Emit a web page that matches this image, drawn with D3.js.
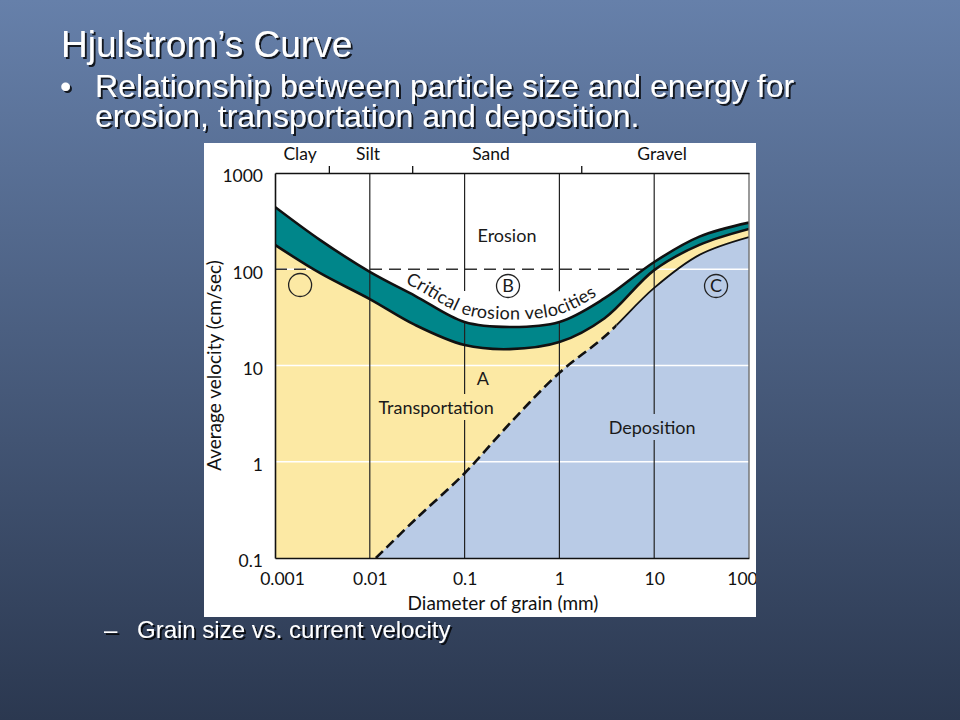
<!DOCTYPE html>
<html>
<head>
<meta charset="utf-8">
<script src="https://cdn.jsdelivr.net/npm/d3@7"></script>
<style>
  body { margin: 0; background: #2e3b54; }
  svg { display: block; }
</style>
</head>
<body>
<div id="chart"></div>
<script>
// grain diameter (mm) sampled along the erosion band
const grainMm = [0.001, 0.003, 0.01, 0.03, 0.1, 0.3, 1, 3, 10, 30, 100];
// upper and lower edge of the critical erosion velocity band (cm/sec)
const erosionUpper = [444, 201, 94, 53, 28.3, 25.1, 28.3, 50, 119, 218, 305];
const erosionLower = [179, 91, 49, 26.4, 16.3, 14.8, 17.5, 31, 98, 179, 262];
// settling (deposition) curve
const settlingMm = [0.0116, 0.03, 0.1, 0.3, 1, 3, 10, 30, 100];
const settlingVel = [0.1, 0.25, 0.76, 2.5, 8.4, 20, 64, 141, 216];

const xTicks = [0.001, 0.01, 0.1, 1, 10, 100];
const xTickLabels = ["0.001", "0.01", "0.1", "1", "10", "100"];
const yTicks = [0.1, 1, 10, 100, 1000];
const yTickLabels = ["0.1", "1", "10", "100", "1000"];

const sizeClasses = ["Clay", "Silt", "Sand", "Gravel"];
const classCentres = [0.00184, 0.0096, 0.19, 12.1];
const classBounds = [0.0037, 0.028, 1.7];

const regionNames = ["Erosion", "Transportation", "A", "Deposition"];
const regionMm = [0.28, 0.05, 0.156, 9.5];
const regionVel = [192, 3.13, 6.27, 1.94];

const markerNames = ["", "B", "C"];
const markerMm = [0.00184, 0.287, 44.9];
const markerVel = [68.6, 67, 67];

const W = 960, H = 720;
const yellow = "#fce9a4", blue = "#b9cbe6", teal = "#00868a";
const chartFont = "Lato, 'Open Sans', sans-serif";
const slideFont = "'Liberation Sans', Arial, sans-serif";

const svg = d3.select("#chart").append("svg")
  .attr("width", W)
  .attr("height", H);

const defs = svg.append("defs");
const grad = defs.append("linearGradient")
  .attr("id", "bg")
  .attr("x1", 0).attr("y1", 0).attr("x2", 0).attr("y2", 1);
grad.append("stop").attr("offset", "0%").attr("stop-color", "#6680aa");
grad.append("stop").attr("offset", "100%").attr("stop-color", "#2b3850");

const shadow = defs.append("filter").attr("id", "shadow")
  .attr("x", "-5%").attr("y", "-20%").attr("width", "110%").attr("height", "140%");
shadow.append("feDropShadow")
  .attr("dx", 2).attr("dy", 2)
  .attr("stdDeviation", 0.5)
  .attr("flood-color", "#000")
  .attr("flood-opacity", 0.8);

svg.append("rect").attr("width", W).attr("height", H).attr("fill", "url(#bg)");

// slide text
const slide = svg.append("g")
  .attr("fill", "#fff")
  .attr("font-family", slideFont)
  .attr("filter", "url(#shadow)");

slide.append("text").attr("x", 61).attr("y", 57)
  .attr("font-size", 37).text("Hjulstrom\u2019s Curve");
slide.append("text").attr("x", 60).attr("y", 97)
  .attr("font-size", 32).text("\u2022");
slide.append("text").attr("x", 95).attr("y", 97)
  .attr("font-size", 32).text("Relationship between particle size and energy for");
slide.append("text").attr("x", 95).attr("y", 127)
  .attr("font-size", 32).text("erosion, transportation and deposition.");
slide.append("text").attr("x", 104).attr("y", 638)
  .attr("font-size", 24).text("\u2013");
slide.append("text").attr("x", 137).attr("y", 638)
  .attr("font-size", 24).text("Grain size vs. current velocity");

// white figure panel
const panel = { x: 204, y: 143, w: 552, h: 474 };
defs.append("clipPath").attr("id", "panelClip").append("rect")
  .attr("x", panel.x).attr("y", panel.y).attr("width", panel.w).attr("height", panel.h);

const fig = svg.append("g").attr("clip-path", "url(#panelClip)");
fig.append("rect")
  .attr("x", panel.x).attr("y", panel.y)
  .attr("width", panel.w).attr("height", panel.h)
  .attr("fill", "#fff");

const plot = { left: 275, right: 749, top: 173, bottom: 558 };
const x = d3.scaleLog().domain([0.001, 100]).range([plot.left, plot.right]);
const y = d3.scaleLog().domain([0.1, 1000]).range([plot.bottom, plot.top]);

defs.append("clipPath").attr("id", "plotClip").append("rect")
  .attr("x", plot.left).attr("y", plot.top)
  .attr("width", plot.right - plot.left).attr("height", plot.bottom - plot.top);

const upper = grainMm.map((d, i) => ({ mm: d, v: erosionUpper[i] }));
const lower = grainMm.map((d, i) => ({ mm: d, v: erosionLower[i] }));
const settle = settlingMm.map((d, i) => ({ mm: d, v: settlingVel[i] }));

const curve = d3.curveCatmullRom.alpha(0.5);
const line = d3.line().x(d => x(d.mm)).y(d => y(d.v)).curve(curve);
const areaBelow = d3.area()
  .x(d => x(d.mm))
  .y0(y(0.1))
  .y1(d => y(d.v))
  .curve(curve);
const band = d3.area()
  .x(d => x(d.mm))
  .y0((d, i) => y(lower[i].v))
  .y1(d => y(d.v))
  .curve(curve);

const p = fig.append("g").attr("clip-path", "url(#plotClip)");

p.append("path").attr("d", areaBelow(lower)).attr("fill", yellow);
p.append("path").attr("d", areaBelow(settle)).attr("fill", blue);

// faint white gridlines
p.selectAll(".hgrid")
  .data([1, 10, 100])
  .enter()
  .append("line")
  .attr("class", "hgrid")
  .attr("x1", plot.left).attr("x2", plot.right)
  .attr("y1", d => y(d)).attr("y2", d => y(d))
  .attr("stroke", "#fff")
  .attr("stroke-width", 1.6);

p.append("line")
  .attr("x1", x(0.001)).attr("x2", x(10))
  .attr("y1", y(100)).attr("y2", y(100))
  .attr("stroke", "#333")
  .attr("stroke-width", 1.3)
  .attr("stroke-dasharray", "12,7");

p.append("path").attr("d", band(upper)).attr("fill", teal);

const vgrid = p.append("g");

p.append("path").attr("d", line(upper))
  .attr("fill", "none").attr("stroke", "#111").attr("stroke-width", 2.6);
p.append("path").attr("d", line(lower))
  .attr("fill", "none").attr("stroke", "#111").attr("stroke-width", 2.6);

// settling curve: dashed through transport zone, solid further on
const splitMm = 4;
defs.append("clipPath").attr("id", "dashClip").append("rect")
  .attr("x", plot.left).attr("y", plot.top)
  .attr("width", x(splitMm) - plot.left).attr("height", plot.bottom - plot.top);
defs.append("clipPath").attr("id", "solidClip").append("rect")
  .attr("x", x(splitMm)).attr("y", plot.top)
  .attr("width", plot.right - x(splitMm)).attr("height", plot.bottom - plot.top);

p.append("path").attr("d", line(settle))
  .attr("clip-path", "url(#dashClip)")
  .attr("fill", "none").attr("stroke", "#111")
  .attr("stroke-width", 2.6).attr("stroke-dasharray", "10,5");
p.append("path").attr("d", line(settle))
  .attr("clip-path", "url(#solidClip)")
  .attr("fill", "none").attr("stroke", "#111")
  .attr("stroke-width", 1.8);

// labels inside the plot
const labels = fig.append("g")
  .attr("font-family", chartFont)
  .attr("font-size", 18)
  .attr("fill", "#1a1a1a");

const labelNodes = [];
regionNames.forEach((name, i) => {
  const t = labels.append("text")
    .attr("x", x(regionMm[i]))
    .attr("y", y(regionVel[i]))
    .attr("text-anchor", "middle")
    .text(name);
  labelNodes.push(t.node());
});

// curved label riding just above the erosion band
const guide = p.append("path")
  .attr("id", "critPath")
  .attr("d", line(upper.map(d => ({ mm: d.mm, v: d.v * 1.2 }))))
  .attr("fill", "none")
  .attr("stroke", "none");
const guideNode = guide.node();
const total = guideNode.getTotalLength();
function lengthAtX(px) {
  let lo = 0, hi = total;
  for (let k = 0; k < 40; k++) {
    const mid = (lo + hi) / 2;
    if (guideNode.getPointAtLength(mid).x < px) lo = mid; else hi = mid;
  }
  return lo;
}
const l0 = lengthAtX(x(0.0235));
const l1 = lengthAtX(x(2.5));
const crit = labels.append("text");
crit.append("textPath")
  .attr("href", "#critPath")
  .attr("startOffset", l0)
  .attr("textLength", l1 - l0)
  .attr("lengthAdjust", "spacing")
  .text("Critical erosion velocities");
labelNodes.push(crit.node());

// circled markers
markerNames.forEach((name, i) => {
  labels.append("circle")
    .attr("cx", x(markerMm[i]))
    .attr("cy", y(markerVel[i]))
    .attr("r", 11.5)
    .attr("fill", "none")
    .attr("stroke", "#222")
    .attr("stroke-width", 1.3);
  if (name) {
    labels.append("text")
      .attr("x", x(markerMm[i]))
      .attr("y", y(markerVel[i]))
      .attr("dy", "0.36em")
      .attr("text-anchor", "middle")
      .attr("font-size", 18)
      .text(name);
  }
});

// vertical decade lines, broken where labels sit
function gapsAt(px) {
  const spans = [];
  labelNodes.forEach(node => {
    const n = node.getNumberOfChars();
    for (let i = 0; i < n; i++) {
      const r = node.getExtentOfChar(i);
      if (r.x - 4 < px && r.x + r.width + 4 > px) {
        spans.push([r.y - 2, r.y + r.height + 2]);
      }
    }
  });
  spans.sort((a, b) => a[0] - b[0]);
  const merged = [];
  spans.forEach(s => {
    const last = merged[merged.length - 1];
    if (last && s[0] <= last[1] + 3) last[1] = Math.max(last[1], s[1]);
    else merged.push(s.slice());
  });
  return merged;
}

xTicks.slice(1, -1).forEach(t => {
  const px = x(t);
  let start = plot.top;
  const segs = [];
  gapsAt(px).forEach(g => {
    segs.push([start, g[0]]);
    start = g[1];
  });
  segs.push([start, plot.bottom]);
  vgrid.selectAll(null)
    .data(segs.filter(s => s[1] > s[0]))
    .enter()
    .append("line")
    .attr("x1", px).attr("x2", px)
    .attr("y1", s => s[0]).attr("y2", s => s[1])
    .attr("stroke", "#222")
    .attr("stroke-width", 1.2);
});

// right frame
fig.append("line")
  .attr("x1", x(100)).attr("x2", x(100))
  .attr("y1", y(1000)).attr("y2", y(0.1))
  .attr("stroke", "#6f6f6f")
  .attr("stroke-width", 1.4);

// axes
const axisStyle = sel => {
  sel.attr("font-family", chartFont).attr("font-size", 17.5);
  sel.select(".domain").attr("stroke", "#111").attr("stroke-width", 1.6);
  sel.selectAll(".tick line").attr("stroke", "#111").attr("stroke-width", 1.3);
  sel.selectAll(".tick text").attr("fill", "#111");
};

fig.append("g")
  .attr("transform", `translate(0,${plot.bottom})`)
  .call(d3.axisBottom(x)
    .tickValues(xTicks)
    .tickSize(0)
    .tickSizeOuter(0)
    .tickPadding(15)
    .tickFormat((d, i) => xTickLabels[i]))
  .call(axisStyle)
  .call(g => g.selectAll(".tick text")
    .attr("dx", (d, i) => (i === 0 ? 7 : i === xTicks.length - 1 ? -7 : 0)));

fig.append("g")
  .attr("transform", `translate(${plot.left},0)`)
  .call(d3.axisLeft(y)
    .tickValues(yTicks)
    .tickSize(0)
    .tickSizeOuter(0)
    .tickPadding(12)
    .tickFormat((d, i) => yTickLabels[i]))
  .call(axisStyle)
  .call(g => g.selectAll(".tick text").attr("dy", "0.5em"));

// top axis with grain size classes
const classAxis = fig.append("g")
  .attr("transform", `translate(0,${plot.top})`)
  .call(d3.axisTop(x)
    .tickValues(classBounds)
    .tickSize(7)
    .tickSizeOuter(0)
    .tickFormat(""))
  .call(axisStyle);

classAxis.selectAll(".cls")
  .data(sizeClasses)
  .enter()
  .append("text")
  .attr("class", "cls")
  .attr("x", (d, i) => x(classCentres[i]))
  .attr("y", -13)
  .attr("text-anchor", "middle")
  .attr("fill", "#111")
  .text(d => d);

// axis titles
fig.append("text")
  .attr("transform", `translate(221,${(plot.top + plot.bottom) / 2}) rotate(-90)`)
  .attr("text-anchor", "middle")
  .attr("font-family", chartFont)
  .attr("font-size", 19)
  .attr("fill", "#111")
  .text("Average velocity (cm/sec)");

fig.append("text")
  .attr("x", 503)
  .attr("y", 610)
  .attr("text-anchor", "middle")
  .attr("font-family", chartFont)
  .attr("font-size", 19)
  .attr("fill", "#111")
  .text("Diameter of grain (mm)");
</script>
</body>
</html>
